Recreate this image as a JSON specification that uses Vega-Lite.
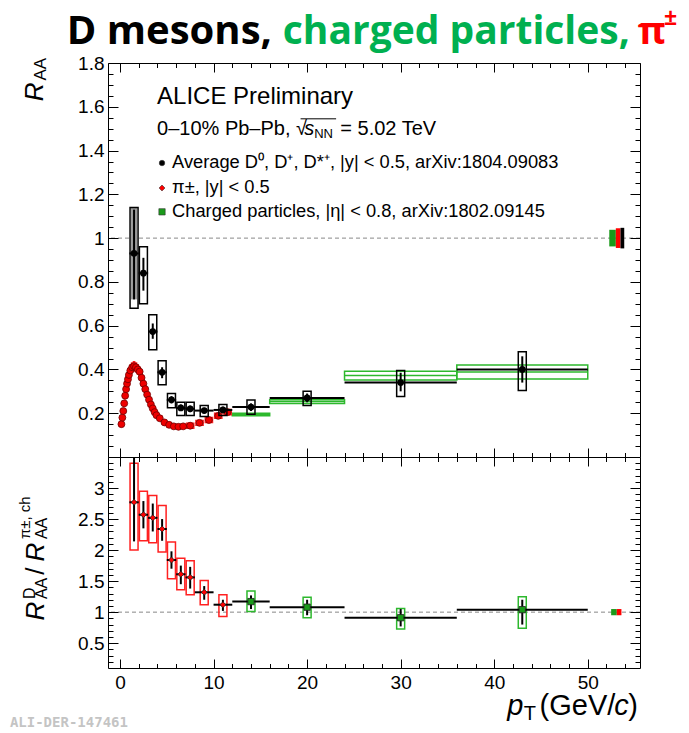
{
"$schema": "https://vega.github.io/schema/vega-lite/v6.json",
"padding": {"left": 9, "top": 6, "right": 0, "bottom": 0},
"spacing": 0,
"bounds": "flush",
"config": {"view": {"stroke": "#000", "strokeWidth": 1}, "font": "Liberation Sans", "axis": {"labelFont": "Liberation Sans", "labelColor": "#000", "tickColor": "#000", "grid": false}},
"datasets": {
"ax": [{"x": 0, "y": 1}],
"piTop": [
{"pT":0.15,"R":0.150,"xlo":0.11,"xhi":0.19,"slo":0.141,"shi":0.159},
{"pT":0.25,"R":0.180,"xlo":0.21,"xhi":0.29,"slo":0.170,"shi":0.190},
{"pT":0.35,"R":0.210,"xlo":0.31,"xhi":0.39,"slo":0.199,"shi":0.221},
{"pT":0.45,"R":0.245,"xlo":0.41,"xhi":0.49,"slo":0.232,"shi":0.258},
{"pT":0.55,"R":0.280,"xlo":0.51,"xhi":0.59,"slo":0.266,"shi":0.294},
{"pT":0.65,"R":0.310,"xlo":0.61,"xhi":0.69,"slo":0.295,"shi":0.325},
{"pT":0.75,"R":0.335,"xlo":0.71,"xhi":0.79,"slo":0.318,"shi":0.352},
{"pT":0.85,"R":0.355,"xlo":0.81,"xhi":0.89,"slo":0.337,"shi":0.373},
{"pT":0.95,"R":0.375,"xlo":0.91,"xhi":0.99,"slo":0.356,"shi":0.394},
{"pT":1.1,"R":0.395,"xlo":1.02,"xhi":1.18,"slo":0.375,"shi":0.415},
{"pT":1.3,"R":0.410,"xlo":1.22,"xhi":1.38,"slo":0.390,"shi":0.430},
{"pT":1.5,"R":0.415,"xlo":1.42,"xhi":1.58,"slo":0.394,"shi":0.436},
{"pT":1.7,"R":0.410,"xlo":1.62,"xhi":1.78,"slo":0.390,"shi":0.430},
{"pT":1.9,"R":0.400,"xlo":1.82,"xhi":1.98,"slo":0.380,"shi":0.420},
{"pT":2.1,"R":0.390,"xlo":2.02,"xhi":2.18,"slo":0.371,"shi":0.409},
{"pT":2.3,"R":0.362,"xlo":2.22,"xhi":2.38,"slo":0.344,"shi":0.380},
{"pT":2.5,"R":0.335,"xlo":2.42,"xhi":2.58,"slo":0.318,"shi":0.352},
{"pT":2.7,"R":0.310,"xlo":2.62,"xhi":2.78,"slo":0.295,"shi":0.325},
{"pT":2.9,"R":0.285,"xlo":2.82,"xhi":2.98,"slo":0.271,"shi":0.299},
{"pT":3.1,"R":0.262,"xlo":3.02,"xhi":3.18,"slo":0.249,"shi":0.275},
{"pT":3.3,"R":0.240,"xlo":3.22,"xhi":3.38,"slo":0.228,"shi":0.252},
{"pT":3.5,"R":0.222,"xlo":3.42,"xhi":3.58,"slo":0.211,"shi":0.233},
{"pT":3.7,"R":0.205,"xlo":3.62,"xhi":3.78,"slo":0.195,"shi":0.215},
{"pT":3.9,"R":0.191,"xlo":3.82,"xhi":3.98,"slo":0.181,"shi":0.201},
{"pT":4.25,"R":0.177,"xlo":4.05,"xhi":4.45,"slo":0.167,"shi":0.187},
{"pT":4.75,"R":0.158,"xlo":4.55,"xhi":4.95,"slo":0.149,"shi":0.167},
{"pT":5.25,"R":0.147,"xlo":5.05,"xhi":5.45,"slo":0.138,"shi":0.156},
{"pT":5.75,"R":0.140,"xlo":5.55,"xhi":5.95,"slo":0.131,"shi":0.149},
{"pT":6.25,"R":0.138,"xlo":6.05,"xhi":6.45,"slo":0.129,"shi":0.147},
{"pT":6.75,"R":0.140,"xlo":6.55,"xhi":6.95,"slo":0.131,"shi":0.149},
{"pT":7.5,"R":0.143,"xlo":7.1,"xhi":7.9,"slo":0.131,"shi":0.155},
{"pT":8.5,"R":0.156,"xlo":8.1,"xhi":8.9,"slo":0.144,"shi":0.168},
{"pT":9.5,"R":0.169,"xlo":9.1,"xhi":9.9,"slo":0.157,"shi":0.181},
{"pT":10.5,"R":0.188,"xlo":10.1,"xhi":10.9,"slo":0.176,"shi":0.200},
{"pT":11.5,"R":0.205,"xlo":11.1,"xhi":11.9,"slo":0.192,"shi":0.218}
],
"dTop": [
{"pT":1.5,"xlo":1,"xhi":2,"R":0.93,"stlo":0.72,"sthi":1.13,"sylo":0.68,"syhi":1.14},
{"pT":2.5,"xlo":2,"xhi":3,"R":0.84,"stlo":0.76,"sthi":0.91,"sylo":0.70,"syhi":0.96},
{"pT":3.5,"xlo":3,"xhi":4,"R":0.573,"stlo":0.54,"sthi":0.61,"sylo":0.49,"syhi":0.65},
{"pT":4.5,"xlo":4,"xhi":5,"R":0.387,"stlo":0.36,"sthi":0.41,"sylo":0.33,"syhi":0.44},
{"pT":5.5,"xlo":5,"xhi":6,"R":0.261,"stlo":0.245,"sthi":0.278,"sylo":0.225,"syhi":0.29},
{"pT":6.5,"xlo":6,"xhi":7,"R":0.224,"stlo":0.21,"sthi":0.24,"sylo":0.19,"syhi":0.25},
{"pT":7.5,"xlo":7,"xhi":8,"R":0.22,"stlo":0.205,"sthi":0.235,"sylo":0.19,"syhi":0.25},
{"pT":9,"xlo":8,"xhi":10,"R":0.212,"stlo":0.2,"sthi":0.225,"sylo":0.185,"syhi":0.235},
{"pT":11,"xlo":10,"xhi":12,"R":0.215,"stlo":0.2,"sthi":0.23,"sylo":0.19,"syhi":0.24},
{"pT":14,"xlo":12,"xhi":16,"R":0.228,"stlo":0.21,"sthi":0.245,"sylo":0.195,"syhi":0.26},
{"pT":20,"xlo":16,"xhi":24,"R":0.27,"stlo":0.25,"sthi":0.29,"sylo":0.235,"syhi":0.30},
{"pT":30,"xlo":24,"xhi":36,"R":0.34,"stlo":0.30,"sthi":0.385,"sylo":0.276,"syhi":0.395},
{"pT":43,"xlo":36,"xhi":50,"R":0.40,"stlo":0.34,"sthi":0.46,"sylo":0.304,"syhi":0.481}
],
"dFd": [{"pT":1.5,"lo":0.72,"hi":1.14}],
"chTop": [
{"pT":14,"xlo":12,"xhi":16,"R":0.194,"sylo":0.188,"syhi":0.200},
{"pT":20,"xlo":16,"xhi":24,"R":0.253,"sylo":0.244,"syhi":0.262},
{"pT":30,"xlo":24,"xhi":36,"R":0.372,"sylo":0.352,"syhi":0.392},
{"pT":43,"xlo":36,"xhi":50,"R":0.388,"sylo":0.356,"syhi":0.420}
],
"normTop": [
{"sp":"ch","x1":52.3,"x2":53.0,"lo":0.962,"hi":1.038},
{"sp":"pi","x1":53.0,"x2":53.5,"lo":0.955,"hi":1.045},
{"sp":"D","x1":53.5,"x2":53.9,"lo":0.953,"hi":1.047}
],
"normBot": [
{"sp":"ch","x1":52.5,"x2":53.1,"lo":0.95,"hi":1.05},
{"sp":"pi","x1":53.1,"x2":53.6,"lo":0.95,"hi":1.05}
],
"ratio": [
{"pT":1.5,"xlo":1,"xhi":2,"r":2.77,"stlo":2.14,"sthi":3.5,"sylo":2.0,"syhi":3.4,"sp":"pi"},
{"pT":2.5,"xlo":2,"xhi":3,"r":2.57,"stlo":2.35,"sthi":2.79,"sylo":2.15,"syhi":2.95,"sp":"pi"},
{"pT":3.5,"xlo":3,"xhi":4,"r":2.52,"stlo":2.3,"sthi":2.75,"sylo":2.12,"syhi":2.88,"sp":"pi"},
{"pT":4.5,"xlo":4,"xhi":5,"r":2.34,"stlo":2.15,"sthi":2.5,"sylo":1.97,"syhi":2.72,"sp":"pi"},
{"pT":5.5,"xlo":5,"xhi":6,"r":1.84,"stlo":1.7,"sthi":1.98,"sylo":1.54,"syhi":2.13,"sp":"pi"},
{"pT":6.5,"xlo":6,"xhi":7,"r":1.61,"stlo":1.45,"sthi":1.75,"sylo":1.36,"syhi":1.87,"sp":"pi"},
{"pT":7.5,"xlo":7,"xhi":8,"r":1.56,"stlo":1.38,"sthi":1.73,"sylo":1.28,"syhi":1.83,"sp":"pi"},
{"pT":9,"xlo":8,"xhi":10,"r":1.32,"stlo":1.2,"sthi":1.42,"sylo":1.12,"syhi":1.51,"sp":"pi"},
{"pT":11,"xlo":10,"xhi":12,"r":1.12,"stlo":1.02,"sthi":1.2,"sylo":0.93,"syhi":1.28,"sp":"pi"},
{"pT":14,"xlo":12,"xhi":16,"r":1.17,"stlo":1.05,"sthi":1.27,"sylo":1.01,"syhi":1.34,"sp":"ch"},
{"pT":20,"xlo":16,"xhi":24,"r":1.08,"stlo":0.95,"sthi":1.2,"sylo":0.91,"syhi":1.24,"sp":"ch"},
{"pT":30,"xlo":24,"xhi":36,"r":0.91,"stlo":0.77,"sthi":1.05,"sylo":0.73,"syhi":1.06,"sp":"ch"},
{"pT":43,"xlo":36,"xhi":50,"r":1.04,"stlo":0.8,"sthi":1.2,"sylo":0.74,"syhi":1.25,"sp":"ch"}
],
"legTop": [
{"x":4.49,"y":1.343,"sp":"D","t":"Average D⁰, D⁺, D*⁺, |y| < 0.5, arXiv:1804.09083"},
{"x":4.49,"y":1.229,"sp":"pi","t":"π±, |y| < 0.5"},
{"x":4.49,"y":1.120,"sp":"ch","t":"Charged particles, |η| < 0.8, arXiv:1802.09145"}
]
},
"vconcat": [
{
"width": 532, "height": 394,
"resolve": {"axis": {"x": "independent", "y": "independent"}},
"layer": [
{"data": {"name": "ax"}, "mark": {"type": "rule", "color": "#888", "strokeDash": [4, 3], "strokeWidth": 1}, "encoding": {"y": {"datum": 1, "type": "quantitative", "scale": {"domain": [0, 1.8], "nice": false, "zero": false}, "axis": null}}},
{"data": {"name": "chTop"}, "mark": {"type": "rect", "fillOpacity": 0, "stroke": "#2db82d", "strokeWidth": 1.5},
 "encoding": {"x": {"field": "xlo", "type": "quantitative", "scale": {"domain": [-0.75, 55.05], "nice": false, "zero": false}, "axis": null}, "x2": {"field": "xhi"}, "y": {"field": "sylo", "type": "quantitative", "scale": {"domain": [0, 1.8], "nice": false, "zero": false}, "axis": null}, "y2": {"field": "syhi"}}},
{"data": {"name": "chTop"}, "mark": {"type": "rule", "color": "#2db82d", "strokeWidth": 1.5},
 "encoding": {"x": {"field": "xlo", "type": "quantitative", "scale": {"domain": [-0.75, 55.05], "nice": false, "zero": false}, "axis": null}, "x2": {"field": "xhi"}, "y": {"field": "R", "type": "quantitative", "scale": {"domain": [0, 1.8], "nice": false, "zero": false}, "axis": null}}},
{"data": {"name": "piTop"}, "mark": {"type": "rect", "fillOpacity": 0, "stroke": "#ff2020", "strokeWidth": 1.2},
 "encoding": {"x": {"field": "xlo", "type": "quantitative", "scale": {"domain": [-0.75, 55.05], "nice": false, "zero": false}, "axis": null}, "x2": {"field": "xhi"}, "y": {"field": "slo", "type": "quantitative", "scale": {"domain": [0, 1.8], "nice": false, "zero": false}, "axis": null}, "y2": {"field": "shi"}}},
{"data": {"name": "piTop"}, "mark": {"type": "point", "shape": "circle", "filled": true, "color": "#ee0000", "stroke": "#700000", "strokeWidth": 0.8, "size": 48, "opacity": 1},
 "encoding": {"x": {"field": "pT", "type": "quantitative", "scale": {"domain": [-0.75, 55.05], "nice": false, "zero": false}, "axis": null}, "y": {"field": "R", "type": "quantitative", "scale": {"domain": [0, 1.8], "nice": false, "zero": false}, "axis": null}}},
{"data": {"name": "dFd"}, "mark": {"type": "bar", "width": 6, "color": "#9a9a9a"},
 "encoding": {"x": {"field": "pT", "type": "quantitative", "scale": {"domain": [-0.75, 55.05], "nice": false, "zero": false}, "axis": null}, "y": {"field": "lo", "type": "quantitative", "scale": {"domain": [0, 1.8], "nice": false, "zero": false}, "axis": null}, "y2": {"field": "hi"}}},
{"data": {"name": "dTop"}, "mark": {"type": "bar", "width": 8, "fillOpacity": 0, "stroke": "#000", "strokeWidth": 1.5},
 "encoding": {"x": {"field": "pT", "type": "quantitative", "scale": {"domain": [-0.75, 55.05], "nice": false, "zero": false}, "axis": null}, "y": {"field": "sylo", "type": "quantitative", "scale": {"domain": [0, 1.8], "nice": false, "zero": false}, "axis": null}, "y2": {"field": "syhi"}}},
{"data": {"name": "dTop"}, "mark": {"type": "rule", "color": "#000", "strokeWidth": 2},
 "encoding": {"x": {"field": "pT", "type": "quantitative", "scale": {"domain": [-0.75, 55.05], "nice": false, "zero": false}, "axis": null}, "y": {"field": "stlo", "type": "quantitative", "scale": {"domain": [0, 1.8], "nice": false, "zero": false}, "axis": null}, "y2": {"field": "sthi"}}},
{"data": {"name": "dTop"}, "mark": {"type": "rule", "color": "#000", "strokeWidth": 2},
 "encoding": {"x": {"field": "xlo", "type": "quantitative", "scale": {"domain": [-0.75, 55.05], "nice": false, "zero": false}, "axis": null}, "x2": {"field": "xhi"}, "y": {"field": "R", "type": "quantitative", "scale": {"domain": [0, 1.8], "nice": false, "zero": false}, "axis": null}}},
{"data": {"name": "dTop"}, "mark": {"type": "point", "shape": "circle", "filled": true, "color": "#000", "size": 45, "opacity": 1},
 "encoding": {"x": {"field": "pT", "type": "quantitative", "scale": {"domain": [-0.75, 55.05], "nice": false, "zero": false}, "axis": null}, "y": {"field": "R", "type": "quantitative", "scale": {"domain": [0, 1.8], "nice": false, "zero": false}, "axis": null}}},
{"data": {"name": "normTop"}, "mark": {"type": "rect"},
 "encoding": {"x": {"field": "x1", "type": "quantitative", "scale": {"domain": [-0.75, 55.05], "nice": false, "zero": false}, "axis": null}, "x2": {"field": "x2"}, "y": {"field": "lo", "type": "quantitative", "scale": {"domain": [0, 1.8], "nice": false, "zero": false}, "axis": null}, "y2": {"field": "hi"},
 "color": {"field": "sp", "type": "nominal", "scale": {"domain": ["D", "pi", "ch"], "range": ["#000000", "#ff0000", "#1a9a1a"]}, "legend": null}}},
{"data": {"name": "legTop"}, "mark": {"type": "point", "filled": true, "opacity": 1, "stroke": "#333", "strokeWidth": 0.6},
 "encoding": {"x": {"field": "x", "type": "quantitative", "scale": {"domain": [-0.75, 55.05], "nice": false, "zero": false}, "axis": null}, "y": {"field": "y", "type": "quantitative", "scale": {"domain": [0, 1.8], "nice": false, "zero": false}, "axis": null},
 "color": {"field": "sp", "type": "nominal", "scale": {"domain": ["D", "pi", "ch"], "range": ["#000000", "#ff0000", "#1a9a1a"]}, "legend": null},
 "shape": {"field": "sp", "type": "nominal", "scale": {"domain": ["D", "pi", "ch"], "range": ["circle", "diamond", "square"]}, "legend": null},
 "size": {"field": "sp", "type": "nominal", "scale": {"domain": ["D", "pi", "ch"], "range": [30, 40, 45]}, "legend": null}}},
{"data": {"name": "legTop"}, "mark": {"type": "text", "align": "left", "baseline": "middle", "dx": 10, "fontSize": 18.3, "font": "Liberation Sans", "color": "#000"},
 "encoding": {"x": {"field": "x", "type": "quantitative", "scale": {"domain": [-0.75, 55.05], "nice": false, "zero": false}, "axis": null}, "y": {"field": "y", "type": "quantitative", "scale": {"domain": [0, 1.8], "nice": false, "zero": false}, "axis": null}, "text": {"field": "t"}}},
{"data": {"values": [{"x": 3.96, "y": 1.645, "t": "ALICE Preliminary"}]}, "mark": {"type": "text", "align": "left", "baseline": "middle", "fontSize": 24, "font": "Liberation Sans", "color": "#000"},
 "encoding": {"x": {"field": "x", "type": "quantitative", "scale": {"domain": [-0.75, 55.05], "nice": false, "zero": false}, "axis": null}, "y": {"field": "y", "type": "quantitative", "scale": {"domain": [0, 1.8], "nice": false, "zero": false}, "axis": null}, "text": {"field": "t"}}},
{"data": {"values": [{"x": 3.96, "y": 1.499, "t": "0–10% Pb–Pb, √"}, {"x": 23.55, "y": 1.499, "t": "= 5.02 TeV"}]}, "mark": {"type": "text", "align": "left", "baseline": "middle", "fontSize": 20, "font": "Liberation Sans", "color": "#000"},
 "encoding": {"x": {"field": "x", "type": "quantitative", "scale": {"domain": [-0.75, 55.05], "nice": false, "zero": false}, "axis": null}, "y": {"field": "y", "type": "quantitative", "scale": {"domain": [0, 1.8], "nice": false, "zero": false}, "axis": null}, "text": {"field": "t"}}},
{"data": {"values": [{"x": 19.7, "y": 1.499, "t": "s"}]}, "mark": {"type": "text", "align": "left", "baseline": "middle", "fontSize": 20, "fontStyle": "italic", "font": "Liberation Sans", "color": "#000"},
 "encoding": {"x": {"field": "x", "type": "quantitative", "scale": {"domain": [-0.75, 55.05], "nice": false, "zero": false}, "axis": null}, "y": {"field": "y", "type": "quantitative", "scale": {"domain": [0, 1.8], "nice": false, "zero": false}, "axis": null}, "text": {"field": "t"}}},
{"data": {"values": [{"x": 20.75, "y": 1.474, "t": "NN"}]}, "mark": {"type": "text", "align": "left", "baseline": "middle", "fontSize": 13, "font": "Liberation Sans", "color": "#000"},
 "encoding": {"x": {"field": "x", "type": "quantitative", "scale": {"domain": [-0.75, 55.05], "nice": false, "zero": false}, "axis": null}, "y": {"field": "y", "type": "quantitative", "scale": {"domain": [0, 1.8], "nice": false, "zero": false}, "axis": null}, "text": {"field": "t"}}},
{"data": {"values": [{"x1": 19.3, "x2": 23.1, "y": 1.545}]}, "mark": {"type": "rule", "color": "#000", "strokeWidth": 1},
 "encoding": {"x": {"field": "x1", "type": "quantitative", "scale": {"domain": [-0.75, 55.05], "nice": false, "zero": false}, "axis": null}, "x2": {"field": "x2"}, "y": {"field": "y", "type": "quantitative", "scale": {"domain": [0, 1.8], "nice": false, "zero": false}, "axis": null}}},
{"data": {"values": [{"x": -5.69, "y": 1.887, "t": "D mesons,"}]}, "mark": {"type": "text", "align": "left", "baseline": "alphabetic", "fontSize": 40, "fontWeight": "bold", "font": "Open Sans", "color": "#000000"},
 "encoding": {"x": {"field": "x", "type": "quantitative", "scale": {"domain": [-0.75, 55.05], "nice": false, "zero": false}, "axis": null}, "y": {"field": "y", "type": "quantitative", "scale": {"domain": [0, 1.8], "nice": false, "zero": false}, "axis": null}, "text": {"field": "t"}}},
{"data": {"values": [{"x": 17.39, "y": 1.887, "t": "charged particles,"}]}, "mark": {"type": "text", "align": "left", "baseline": "alphabetic", "fontSize": 39, "fontWeight": "bold", "font": "Open Sans", "color": "#00b050"},
 "encoding": {"x": {"field": "x", "type": "quantitative", "scale": {"domain": [-0.75, 55.05], "nice": false, "zero": false}, "axis": null}, "y": {"field": "y", "type": "quantitative", "scale": {"domain": [0, 1.8], "nice": false, "zero": false}, "axis": null}, "text": {"field": "t"}}},
{"data": {"values": [{"x": 55.35, "y": 1.887, "t": "π"}]}, "mark": {"type": "text", "align": "left", "baseline": "alphabetic", "fontSize": 38, "fontWeight": "bold", "font": "Open Sans", "color": "#ff0000"},
 "encoding": {"x": {"field": "x", "type": "quantitative", "scale": {"domain": [-0.75, 55.05], "nice": false, "zero": false}, "axis": null}, "y": {"field": "y", "type": "quantitative", "scale": {"domain": [0, 1.8], "nice": false, "zero": false}, "axis": null}, "text": {"field": "t"}}},
{"data": {"values": [{"x": 58.15, "y": 1.975, "t": "±"}]}, "mark": {"type": "text", "align": "left", "baseline": "alphabetic", "fontSize": 23, "fontWeight": "bold", "font": "Open Sans", "color": "#ff0000"},
 "encoding": {"x": {"field": "x", "type": "quantitative", "scale": {"domain": [-0.75, 55.05], "nice": false, "zero": false}, "axis": null}, "y": {"field": "y", "type": "quantitative", "scale": {"domain": [0, 1.8], "nice": false, "zero": false}, "axis": null}, "text": {"field": "t"}}},
{"data": {"values": [{"x": -9.04, "y": 1.668, "t": "R"}]}, "mark": {"type": "text", "align": "center", "baseline": "middle", "angle": 270, "fontSize": 26, "fontStyle": "italic", "font": "Liberation Sans", "color": "#000"},
 "encoding": {"x": {"field": "x", "type": "quantitative", "scale": {"domain": [-0.75, 55.05], "nice": false, "zero": false}, "axis": null}, "y": {"field": "y", "type": "quantitative", "scale": {"domain": [0, 1.8], "nice": false, "zero": false}, "axis": null}, "text": {"field": "t"}}},
{"data": {"values": [{"x": -8.41, "y": 1.72, "t": "AA"}]}, "mark": {"type": "text", "align": "left", "baseline": "middle", "angle": 270, "fontSize": 17, "font": "Liberation Sans", "color": "#000"},
 "encoding": {"x": {"field": "x", "type": "quantitative", "scale": {"domain": [-0.75, 55.05], "nice": false, "zero": false}, "axis": null}, "y": {"field": "y", "type": "quantitative", "scale": {"domain": [0, 1.8], "nice": false, "zero": false}, "axis": null}, "text": {"field": "t"}}},
{"data": {"name": "ax"}, "mark": {"type": "point", "opacity": 0},
 "encoding": {"x": {"field": "x", "type": "quantitative", "scale": {"domain": [-0.75, 55.05], "nice": false, "zero": false}, "axis": {"orient": "bottom", "values": [0, 10, 20, 30, 40, 50], "tickSize": -9, "labels": false, "domain": false, "title": null, "zindex": 2}},
 "y": {"field": "y", "type": "quantitative", "scale": {"domain": [0, 1.8], "nice": false, "zero": false}, "axis": {"orient": "left", "values": [0.2, 0.4, 0.6, 0.8, 1, 1.2, 1.4, 1.6, 1.8], "tickSize": -10, "labels": false, "domain": false, "title": null, "zindex": 2}}}},
{"data": {"name": "ax"}, "mark": {"type": "point", "opacity": 0},
 "encoding": {"x": {"field": "x", "type": "quantitative", "scale": {"domain": [-0.75, 55.05], "nice": false, "zero": false}, "axis": {"orient": "top", "values": [0, 10, 20, 30, 40, 50], "tickSize": -9, "labels": false, "domain": false, "title": null, "zindex": 2}},
 "y": {"field": "y", "type": "quantitative", "scale": {"domain": [0, 1.8], "nice": false, "zero": false}, "axis": {"orient": "right", "values": [0.2, 0.4, 0.6, 0.8, 1, 1.2, 1.4, 1.6, 1.8], "tickSize": -10, "labels": false, "domain": false, "title": null, "zindex": 2}}}},
{"data": {"name": "ax"}, "mark": {"type": "point", "opacity": 0},
 "encoding": {"x": {"field": "x", "type": "quantitative", "scale": {"domain": [-0.75, 55.05], "nice": false, "zero": false}, "axis": {"orient": "bottom", "values": [2, 4, 6, 8, 12, 14, 16, 18, 22, 24, 26, 28, 32, 34, 36, 38, 42, 44, 46, 48, 52, 54], "tickSize": -4.5, "labels": false, "domain": false, "title": null, "zindex": 2}},
 "y": {"field": "y", "type": "quantitative", "scale": {"domain": [0, 1.8], "nice": false, "zero": false}, "axis": {"orient": "left", "values": [0.05, 0.1, 0.15, 0.25, 0.3, 0.35, 0.45, 0.5, 0.55, 0.65, 0.7, 0.75, 0.85, 0.9, 0.95, 1.05, 1.1, 1.15, 1.25, 1.3, 1.35, 1.45, 1.5, 1.55, 1.65, 1.7, 1.75], "tickSize": -5, "labels": false, "domain": false, "title": null, "zindex": 2}}}},
{"data": {"name": "ax"}, "mark": {"type": "point", "opacity": 0},
 "encoding": {"x": {"field": "x", "type": "quantitative", "scale": {"domain": [-0.75, 55.05], "nice": false, "zero": false}, "axis": {"orient": "top", "values": [2, 4, 6, 8, 12, 14, 16, 18, 22, 24, 26, 28, 32, 34, 36, 38, 42, 44, 46, 48, 52, 54], "tickSize": -4.5, "labels": false, "domain": false, "title": null, "zindex": 2}},
 "y": {"field": "y", "type": "quantitative", "scale": {"domain": [0, 1.8], "nice": false, "zero": false}, "axis": {"orient": "right", "values": [0.05, 0.1, 0.15, 0.25, 0.3, 0.35, 0.45, 0.5, 0.55, 0.65, 0.7, 0.75, 0.85, 0.9, 0.95, 1.05, 1.1, 1.15, 1.25, 1.3, 1.35, 1.45, 1.5, 1.55, 1.65, 1.7, 1.75], "tickSize": -5, "labels": false, "domain": false, "title": null, "zindex": 2}}}},
{"data": {"name": "ax"}, "mark": {"type": "point", "opacity": 0},
 "encoding": {"y": {"field": "y", "type": "quantitative", "scale": {"domain": [0, 1.8], "nice": false, "zero": false}, "axis": {"orient": "left", "values": [0.2, 0.4, 0.6, 0.8, 1, 1.2, 1.4, 1.6, 1.8], "format": "~r", "ticks": false, "labels": true, "labelFontSize": 19, "labelPadding": 4, "domain": false, "title": null}}}}
]
},
{
"width": 532, "height": 211,
"resolve": {"axis": {"x": "independent", "y": "independent"}},
"layer": [
{"data": {"name": "ax"}, "mark": {"type": "rule", "color": "#888", "strokeDash": [4, 3], "strokeWidth": 1}, "encoding": {"y": {"datum": 1, "type": "quantitative", "scale": {"domain": [0.1, 3.5], "nice": false, "zero": false}, "axis": null}}},
{"data": {"name": "ratio"}, "mark": {"type": "bar", "width": 8, "fillOpacity": 0, "strokeWidth": 1.5},
 "encoding": {"x": {"field": "pT", "type": "quantitative", "scale": {"domain": [-0.75, 55.05], "nice": false, "zero": false}, "axis": null}, "y": {"field": "sylo", "type": "quantitative", "scale": {"domain": [0.1, 3.5], "nice": false, "zero": false}, "axis": null}, "y2": {"field": "syhi"},
 "stroke": {"field": "sp", "type": "nominal", "scale": {"domain": ["pi", "ch"], "range": ["#ff2020", "#2db82d"]}, "legend": null}}},
{"data": {"name": "ratio"}, "mark": {"type": "rule", "color": "#000", "strokeWidth": 2, "clip": true},
 "encoding": {"x": {"field": "pT", "type": "quantitative", "scale": {"domain": [-0.75, 55.05], "nice": false, "zero": false}, "axis": null}, "y": {"field": "stlo", "type": "quantitative", "scale": {"domain": [0.1, 3.5], "nice": false, "zero": false}, "axis": null}, "y2": {"field": "sthi"}}},
{"data": {"name": "ratio"}, "mark": {"type": "rule", "color": "#000", "strokeWidth": 2},
 "encoding": {"x": {"field": "xlo", "type": "quantitative", "scale": {"domain": [-0.75, 55.05], "nice": false, "zero": false}, "axis": null}, "x2": {"field": "xhi"}, "y": {"field": "r", "type": "quantitative", "scale": {"domain": [0.1, 3.5], "nice": false, "zero": false}, "axis": null}}},
{"data": {"name": "ratio"}, "mark": {"type": "point", "filled": true, "opacity": 1, "stroke": "#222", "strokeWidth": 0.8},
 "encoding": {"x": {"field": "pT", "type": "quantitative", "scale": {"domain": [-0.75, 55.05], "nice": false, "zero": false}, "axis": null}, "y": {"field": "r", "type": "quantitative", "scale": {"domain": [0.1, 3.5], "nice": false, "zero": false}, "axis": null},
 "color": {"field": "sp", "type": "nominal", "scale": {"domain": ["pi", "ch"], "range": ["#ee0000", "#108a10"]}, "legend": null},
 "shape": {"field": "sp", "type": "nominal", "scale": {"domain": ["pi", "ch"], "range": ["circle", "square"]}, "legend": null},
 "size": {"field": "sp", "type": "nominal", "scale": {"domain": ["pi", "ch"], "range": [40, 55]}, "legend": null}}},
{"data": {"name": "normBot"}, "mark": {"type": "rect"},
 "encoding": {"x": {"field": "x1", "type": "quantitative", "scale": {"domain": [-0.75, 55.05], "nice": false, "zero": false}, "axis": null}, "x2": {"field": "x2"}, "y": {"field": "lo", "type": "quantitative", "scale": {"domain": [0.1, 3.5], "nice": false, "zero": false}, "axis": null}, "y2": {"field": "hi"},
 "color": {"field": "sp", "type": "nominal", "scale": {"domain": ["pi", "ch"], "range": ["#ff0000", "#1a9a1a"]}, "legend": null}}},
{"data": {"values": [{"x": -8.94, "y": 1.016, "t": "R"}, {"x": -8.94, "y": 1.968, "t": "R"}]}, "mark": {"type": "text", "align": "center", "baseline": "middle", "angle": 270, "fontSize": 26, "fontStyle": "italic", "font": "Liberation Sans", "color": "#000"},
 "encoding": {"x": {"field": "x", "type": "quantitative", "scale": {"domain": [-0.75, 55.05], "nice": false, "zero": false}, "axis": null}, "y": {"field": "y", "type": "quantitative", "scale": {"domain": [0.1, 3.5], "nice": false, "zero": false}, "axis": null}, "text": {"field": "t"}}},
{"data": {"values": [{"x": -8.94, "y": 1.661, "t": "/"}]}, "mark": {"type": "text", "align": "center", "baseline": "middle", "angle": 270, "fontSize": 26, "font": "Liberation Sans", "color": "#000"},
 "encoding": {"x": {"field": "x", "type": "quantitative", "scale": {"domain": [-0.75, 55.05], "nice": false, "zero": false}, "axis": null}, "y": {"field": "y", "type": "quantitative", "scale": {"domain": [0.1, 3.5], "nice": false, "zero": false}, "axis": null}, "text": {"field": "t"}}},
{"data": {"values": [{"x": -9.67, "y": 1.21, "t": "D"}, {"x": -8.31, "y": 1.21, "t": "AA"}, {"x": -8.31, "y": 2.177, "t": "AA"}]}, "mark": {"type": "text", "align": "left", "baseline": "middle", "angle": 270, "fontSize": 16, "font": "Liberation Sans", "color": "#000"},
 "encoding": {"x": {"field": "x", "type": "quantitative", "scale": {"domain": [-0.75, 55.05], "nice": false, "zero": false}, "axis": null}, "y": {"field": "y", "type": "quantitative", "scale": {"domain": [0.1, 3.5], "nice": false, "zero": false}, "axis": null}, "text": {"field": "t"}}},
{"data": {"values": [{"x": -10.2, "y": 2.177, "t": "π±, ch"}]}, "mark": {"type": "text", "align": "left", "baseline": "middle", "angle": 270, "fontSize": 15, "font": "Liberation Sans", "color": "#000"},
 "encoding": {"x": {"field": "x", "type": "quantitative", "scale": {"domain": [-0.75, 55.05], "nice": false, "zero": false}, "axis": null}, "y": {"field": "y", "type": "quantitative", "scale": {"domain": [0.1, 3.5], "nice": false, "zero": false}, "axis": null}, "text": {"field": "t"}}},
{"data": {"values": [{"x": 41.4, "y": -0.661, "t": "p"}, {"x": 52.82, "y": -0.661, "t": "c"}]}, "mark": {"type": "text", "align": "left", "baseline": "alphabetic", "fontSize": 29, "fontStyle": "italic", "font": "Liberation Sans", "color": "#000"},
 "encoding": {"x": {"field": "x", "type": "quantitative", "scale": {"domain": [-0.75, 55.05], "nice": false, "zero": false}, "axis": null}, "y": {"field": "y", "type": "quantitative", "scale": {"domain": [0.1, 3.5], "nice": false, "zero": false}, "axis": null}, "text": {"field": "t"}}},
{"data": {"values": [{"x": 44.85, "y": -0.661, "t": "(GeV/"}, {"x": 54.33, "y": -0.661, "t": ")"}]}, "mark": {"type": "text", "align": "left", "baseline": "alphabetic", "fontSize": 29, "font": "Liberation Sans", "color": "#000"},
 "encoding": {"x": {"field": "x", "type": "quantitative", "scale": {"domain": [-0.75, 55.05], "nice": false, "zero": false}, "axis": null}, "y": {"field": "y", "type": "quantitative", "scale": {"domain": [0.1, 3.5], "nice": false, "zero": false}, "axis": null}, "text": {"field": "t"}}},
{"data": {"values": [{"x": 43.17, "y": -0.742, "t": "T"}]}, "mark": {"type": "text", "align": "left", "baseline": "alphabetic", "fontSize": 20, "font": "Liberation Sans", "color": "#000"},
 "encoding": {"x": {"field": "x", "type": "quantitative", "scale": {"domain": [-0.75, 55.05], "nice": false, "zero": false}, "axis": null}, "y": {"field": "y", "type": "quantitative", "scale": {"domain": [0.1, 3.5], "nice": false, "zero": false}, "axis": null}, "text": {"field": "t"}}},
{"data": {"values": [{"x": -11.77, "y": -0.855, "t": "ALI-DER-147461"}]}, "mark": {"type": "text", "align": "left", "baseline": "alphabetic", "fontSize": 14, "fontWeight": "bold", "font": "DejaVu Sans Mono", "color": "#c4c4c4"},
 "encoding": {"x": {"field": "x", "type": "quantitative", "scale": {"domain": [-0.75, 55.05], "nice": false, "zero": false}, "axis": null}, "y": {"field": "y", "type": "quantitative", "scale": {"domain": [0.1, 3.5], "nice": false, "zero": false}, "axis": null}, "text": {"field": "t"}}},
{"data": {"name": "ax"}, "mark": {"type": "point", "opacity": 0},
 "encoding": {"x": {"field": "x", "type": "quantitative", "scale": {"domain": [-0.75, 55.05], "nice": false, "zero": false}, "axis": {"orient": "bottom", "values": [0, 10, 20, 30, 40, 50], "tickSize": -9, "labels": false, "domain": false, "title": null, "zindex": 2}},
 "y": {"field": "y", "type": "quantitative", "scale": {"domain": [0.1, 3.5], "nice": false, "zero": false}, "axis": {"orient": "left", "values": [0.5, 1, 1.5, 2, 2.5, 3], "tickSize": -10, "labels": false, "domain": false, "title": null, "zindex": 2}}}},
{"data": {"name": "ax"}, "mark": {"type": "point", "opacity": 0},
 "encoding": {"x": {"field": "x", "type": "quantitative", "scale": {"domain": [-0.75, 55.05], "nice": false, "zero": false}, "axis": {"orient": "top", "values": [0, 10, 20, 30, 40, 50], "tickSize": -9, "labels": false, "domain": false, "title": null, "zindex": 2}},
 "y": {"field": "y", "type": "quantitative", "scale": {"domain": [0.1, 3.5], "nice": false, "zero": false}, "axis": {"orient": "right", "values": [0.5, 1, 1.5, 2, 2.5, 3], "tickSize": -10, "labels": false, "domain": false, "title": null, "zindex": 2}}}},
{"data": {"name": "ax"}, "mark": {"type": "point", "opacity": 0},
 "encoding": {"x": {"field": "x", "type": "quantitative", "scale": {"domain": [-0.75, 55.05], "nice": false, "zero": false}, "axis": {"orient": "bottom", "values": [2, 4, 6, 8, 12, 14, 16, 18, 22, 24, 26, 28, 32, 34, 36, 38, 42, 44, 46, 48, 52, 54], "tickSize": -4.5, "labels": false, "domain": false, "title": null, "zindex": 2}},
 "y": {"field": "y", "type": "quantitative", "scale": {"domain": [0.1, 3.5], "nice": false, "zero": false}, "axis": {"orient": "left", "values": [0.2, 0.3, 0.4, 0.6, 0.7, 0.8, 0.9, 1.1, 1.2, 1.3, 1.4, 1.6, 1.7, 1.8, 1.9, 2.1, 2.2, 2.3, 2.4, 2.6, 2.7, 2.8, 2.9, 3.1, 3.2, 3.3, 3.4], "tickSize": -5, "labels": false, "domain": false, "title": null, "zindex": 2}}}},
{"data": {"name": "ax"}, "mark": {"type": "point", "opacity": 0},
 "encoding": {"x": {"field": "x", "type": "quantitative", "scale": {"domain": [-0.75, 55.05], "nice": false, "zero": false}, "axis": {"orient": "top", "values": [2, 4, 6, 8, 12, 14, 16, 18, 22, 24, 26, 28, 32, 34, 36, 38, 42, 44, 46, 48, 52, 54], "tickSize": -4.5, "labels": false, "domain": false, "title": null, "zindex": 2}},
 "y": {"field": "y", "type": "quantitative", "scale": {"domain": [0.1, 3.5], "nice": false, "zero": false}, "axis": {"orient": "right", "values": [0.2, 0.3, 0.4, 0.6, 0.7, 0.8, 0.9, 1.1, 1.2, 1.3, 1.4, 1.6, 1.7, 1.8, 1.9, 2.1, 2.2, 2.3, 2.4, 2.6, 2.7, 2.8, 2.9, 3.1, 3.2, 3.3, 3.4], "tickSize": -5, "labels": false, "domain": false, "title": null, "zindex": 2}}}},
{"data": {"name": "ax"}, "mark": {"type": "point", "opacity": 0},
 "encoding": {"x": {"field": "x", "type": "quantitative", "scale": {"domain": [-0.75, 55.05], "nice": false, "zero": false}, "axis": {"orient": "bottom", "values": [0, 10, 20, 30, 40, 50], "format": "d", "ticks": false, "labels": true, "labelFontSize": 19, "labelPadding": 5, "domain": false, "title": null}},
 "y": {"field": "y", "type": "quantitative", "scale": {"domain": [0.1, 3.5], "nice": false, "zero": false}, "axis": {"orient": "left", "values": [0.5, 1, 1.5, 2, 2.5, 3], "format": "~r", "ticks": false, "labels": true, "labelFontSize": 19, "labelPadding": 4, "domain": false, "title": null}}}}
]
}
]
}
